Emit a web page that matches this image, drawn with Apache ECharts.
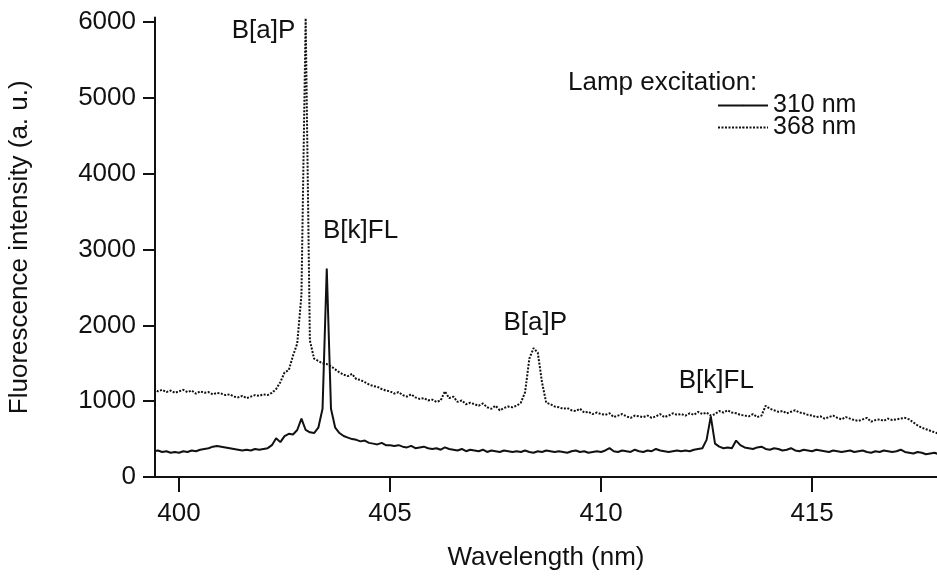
<!DOCTYPE html>
<html>
<head>
<meta charset="utf-8">
<script src="https://cdn.jsdelivr.net/npm/echarts@6/dist/echarts.min.js"></script>
<style>
  html, body { margin: 0; padding: 0; background: #fff; }
  #main { width: 937px; height: 581px; }
</style>
</head>
<body>
<div id="main"></div>
<script>
// wavelength sampling: 399.4 .. 418.0 nm, 0.1 nm steps
var wlStart = 399.4;
var wlStep = 0.1;

// Lamp excitation 310 nm (solid), one row per nm
var int310 = [].concat(
    [340, 350, 330, 340, 320, 330],                        // 399.4-399.9
    [320, 340, 330, 350, 340, 360, 370, 380, 400, 410],    // 400
    [400, 390, 380, 370, 360, 350, 360, 350, 370, 360],    // 401
    [370, 380, 420, 510, 460, 540, 570, 560, 620, 770],    // 402
    [620, 590, 580, 650, 900, 2750, 900, 650, 580, 540],   // 403
    [520, 500, 490, 470, 480, 450, 440, 430, 450, 420],    // 404
    [420, 410, 420, 400, 390, 410, 380, 390, 400, 380],    // 405
    [370, 380, 360, 390, 370, 360, 350, 370, 340, 360],    // 406
    [350, 340, 360, 330, 350, 340, 330, 350, 340, 330],    // 407
    [340, 330, 350, 330, 320, 340, 330, 350, 340, 330],    // 408
    [340, 330, 320, 340, 350, 330, 340, 320, 330, 340],    // 409
    [330, 350, 380, 340, 330, 350, 340, 330, 360, 340],    // 410
    [330, 350, 340, 370, 350, 340, 330, 340, 350, 340],    // 411
    [350, 340, 360, 370, 380, 490, 800, 440, 400, 380],    // 412
    [390, 380, 480, 420, 390, 380, 370, 390, 400, 370],    // 413
    [360, 380, 370, 350, 360, 380, 350, 340, 360, 350],    // 414
    [340, 360, 350, 340, 330, 350, 340, 330, 340, 350],    // 415
    [330, 340, 350, 330, 320, 340, 330, 350, 340, 330],    // 416
    [340, 360, 330, 320, 310, 330, 320, 300, 310, 320],    // 417
    [300]                                                  // 418.0
);

// Lamp excitation 368 nm (dotted)
var int368 = [].concat(
    [1160, 1130, 1150, 1120, 1140, 1110],                          // 399.4-399.9
    [1130, 1150, 1120, 1140, 1100, 1130, 1110, 1120, 1090, 1110],  // 400
    [1100, 1080, 1090, 1060, 1050, 1070, 1040, 1060, 1080, 1070],  // 401
    [1090, 1080, 1110, 1160, 1250, 1380, 1410, 1600, 1760, 2400],  // 402
    [6050, 1800, 1560, 1530, 1500, 1490, 1460, 1420, 1380, 1350],  // 403
    [1330, 1360, 1290, 1280, 1250, 1220, 1200, 1190, 1160, 1140],  // 404
    [1130, 1100, 1120, 1080, 1060, 1090, 1050, 1030, 1040, 1010],  // 405
    [1020, 990, 1010, 1130, 1040, 1060, 990, 1010, 960, 980],      // 406
    [960, 940, 970, 920, 900, 940, 880, 910, 930, 920],            // 407
    [940, 980, 1120, 1560, 1700, 1640, 1250, 980, 960, 930],       // 408
    [920, 900, 910, 880, 870, 900, 850, 860, 830, 850],            // 409
    [830, 820, 840, 790, 810, 830, 800, 780, 810, 800],            // 410
    [790, 810, 780, 800, 830, 790, 810, 840, 820, 830],            // 411
    [810, 840, 820, 860, 830, 850, 810, 830, 870, 850],            // 412
    [880, 850, 840, 820, 810, 800, 830, 790, 810, 940],            // 413
    [900, 880, 860, 870, 840, 860, 880, 850, 840, 820],            // 414
    [810, 790, 800, 770, 790, 810, 780, 760, 790, 770],            // 415
    [750, 740, 760, 780, 730, 750, 760, 740, 770, 750],            // 416
    [760, 770, 780, 760, 720, 680, 650, 630, 610, 590],            // 417
    [570]                                                          // 418.0
);

var xTicks = [400, 405, 410, 415];
var yTicks = [0, 1000, 2000, 3000, 4000, 5000, 6000];

// peak annotations [wavelength, intensity, text]
var peakLabels310 = [[404.3, 3250, 'B[k]FL'], [412.73, 1270, 'B[k]FL']];
var peakLabels368 = [[402.0, 5890, 'B[a]P'], [408.44, 2030, 'B[a]P']];

function pairs(vals) {
    return vals.map(function (v, i) {
        return [+(wlStart + i * wlStep).toFixed(1), v];
    });
}

function marks(list) {
    return {
        symbol: 'rect',
        symbolSize: 1,
        itemStyle: { color: 'transparent' },
        label: {
            show: true,
            position: 'inside',
            formatter: '{b}',
            color: '#111',
            fontSize: 26
        },
        data: list.map(function (p) {
            return { name: p[2], coord: [p[0], p[1]] };
        })
    };
}

var ink = '#111';

var option = {
    animation: false,
    backgroundColor: '#fff',
    textStyle: { fontFamily: 'Liberation Sans', color: ink },
    title: {
        text: 'Lamp excitation:',
        left: 568,
        top: 70,
        padding: 0,
        textStyle: { fontSize: 26, fontWeight: 'normal', color: ink }
    },
    legend: {
        data: ['310 nm', '368 nm'],
        orient: 'vertical',
        left: 717,
        top: 93,
        padding: 0,
        itemWidth: 50,
        itemHeight: 2,
        itemGap: -3,
        textStyle: { fontSize: 25, color: ink }
    },
    grid: {
        left: 155,
        right: 0,
        top: 17.5,
        bottom: 104,
        containLabel: false,
        outerBoundsMode: 'none'
    },
    xAxis: {
        type: 'value',
        min: 399.43,
        max: 417.96,
        name: 'Wavelength (nm)',
        nameLocation: 'middle',
        nameGap: 68,
        nameTextStyle: { fontSize: 26, color: ink },
        splitLine: { show: false },
        axisLine: { lineStyle: { color: ink, width: 2 } },
        axisTick: { customValues: xTicks, length: 15, lineStyle: { color: ink, width: 2 } },
        axisLabel: { customValues: xTicks, fontSize: 26, color: ink, margin: 24 }
    },
    yAxis: {
        type: 'value',
        min: 0,
        max: 6060,
        name: 'Fluorescence intensity (a. u.)',
        nameLocation: 'middle',
        nameGap: 122,
        nameTextStyle: { fontSize: 26, color: ink },
        splitLine: { show: false },
        axisLine: { show: true, lineStyle: { color: ink, width: 2 } },
        axisTick: { show: true, customValues: yTicks, length: 12, lineStyle: { color: ink, width: 2 } },
        axisLabel: {
            customValues: yTicks,
            fontSize: 26,
            color: ink,
            margin: 19,
            formatter: function (v) { return String(v); }
        }
    },
    series: [{
        name: '310 nm',
        type: 'line',
        symbol: 'none',
        data: pairs(int310),
        lineStyle: { color: ink, width: 2 },
        itemStyle: { color: ink },
        markPoint: marks(peakLabels310)
    }, {
        name: '368 nm',
        type: 'line',
        symbol: 'none',
        data: pairs(int368),
        lineStyle: { color: ink, width: 2, type: [2, 1.5] },
        itemStyle: { color: ink },
        markPoint: marks(peakLabels368)
    }]
};

var myChart = echarts.init(document.getElementById('main'));
myChart.setOption(option);
</script>
</body>
</html>
